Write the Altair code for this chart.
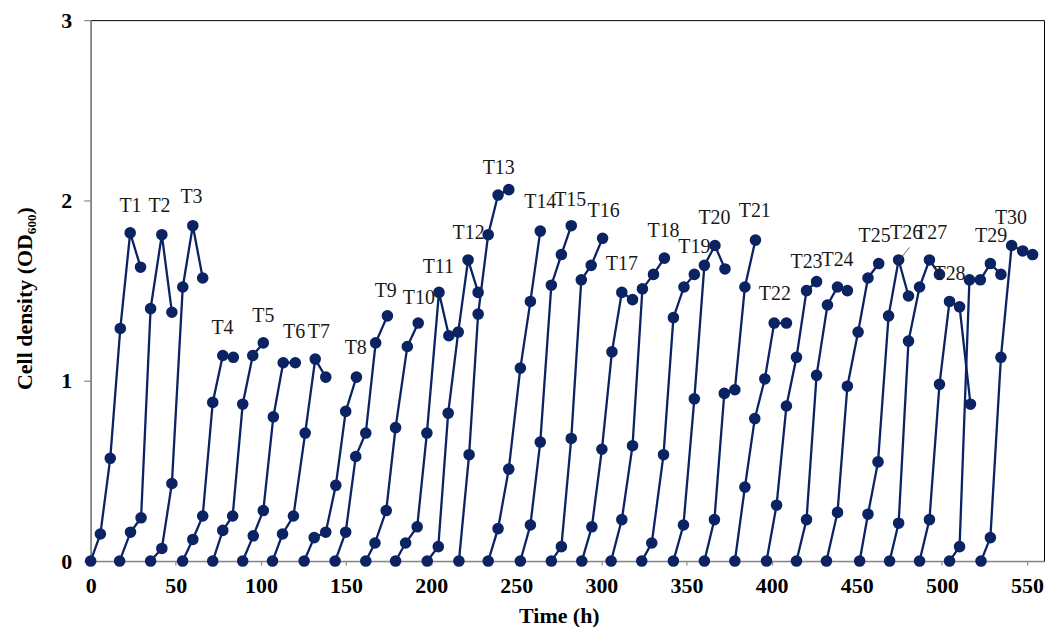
import altair as alt
import pandas as pd

series_names = ["T1", "T2", "T3", "T4", "T5", "T6", "T7", "T8", "T9", "T10",
                "T11", "T12", "T13", "T14", "T15", "T16", "T17", "T18", "T19", "T20",
                "T21", "T22", "T23", "T24", "T25", "T26", "T27", "T28", "T29", "T30"]

times = [
    [0, 5.7, 11.5, 17.4, 23.2, 29.3],
    [17, 23.4, 29.6, 35.2, 41.8, 47.7],
    [35.2, 41.8, 47.7, 54.1, 60, 65.8],
    [54, 60, 65.8, 71.7, 77.6, 83.8],
    [71.7, 77.6, 83.4, 89.3, 95.2, 101.4],
    [89.3, 95.5, 101.4, 107.3, 113.1, 120.2],
    [106.8, 112.7, 119.1, 126, 131.9, 138.1],
    [125.4, 131.3, 138.1, 144, 149.8, 156.1],
    [143.6, 149.8, 155.7, 161.6, 167.4, 174.3],
    [161.6, 167, 173.6, 179.1, 186, 192.4],
    [179.1, 185, 191.8, 197.5, 204.6, 210.4],
    [197.7, 204.2, 210, 215.9, 221.7, 227.6],
    [216.3, 222.3, 227.6, 233.5, 239.3, 245.6],
    [233.5, 239.3, 245.6, 252.4, 258.3, 264.1],
    [252.4, 258.3, 264.1, 270.6, 276.5, 282.3],
    [270.6, 276.5, 282.3, 288.2, 294, 300.7],
    [288.5, 294.4, 300.3, 306.2, 312, 318.3],
    [305.7, 312, 318.3, 324.1, 330.6, 337],
    [323.7, 329.6, 336.5, 342.3, 348.5, 354.6],
    [342.3, 348.2, 354.6, 360.5, 366.7, 372.6],
    [360.5, 366.4, 372.2, 378.4, 384.3, 390.5],
    [378.4, 384.3, 390.1, 396, 401.5, 408.7],
    [397, 402.9, 408.7, 414.6, 420.5, 426.4],
    [414.6, 420.5, 426.4, 432.8, 438.7, 444.5],
    [432.2, 438.7, 444.5, 450.8, 456.6, 462.9],
    [451.7, 456.6, 462.5, 468.7, 474.6, 480.4],
    [469.3, 474.6, 480.4, 486.9, 492.7, 498.6],
    [486.9, 492.7, 498.6, 504.5, 510.4, 516.8],
    [504.5, 510.4, 516.2, 522.6, 528.5, 534.7],
    [523, 528.5, 534.7, 541, 547.5, 553.3],
]

od_values = [
    [0, 0.15, 0.57, 1.29, 1.82, 1.63],
    [0, 0.16, 0.24, 1.40, 1.81, 1.38],
    [0, 0.07, 0.43, 1.52, 1.86, 1.57],
    [0, 0.12, 0.25, 0.88, 1.14, 1.13],
    [0, 0.17, 0.25, 0.87, 1.14, 1.21],
    [0, 0.14, 0.28, 0.80, 1.10, 1.10],
    [0, 0.15, 0.25, 0.71, 1.12, 1.02],
    [0, 0.13, 0.16, 0.42, 0.83, 1.02],
    [0, 0.16, 0.58, 0.71, 1.21, 1.36],
    [0, 0.10, 0.28, 0.74, 1.19, 1.32],
    [0, 0.10, 0.19, 0.71, 1.49, 1.25],
    [0, 0.08, 0.82, 1.27, 1.67, 1.49],
    [0, 0.59, 1.37, 1.81, 2.03, 2.06],
    [0, 0.18, 0.51, 1.07, 1.44, 1.83],
    [0, 0.20, 0.66, 1.53, 1.70, 1.86],
    [0, 0.08, 0.68, 1.56, 1.64, 1.79],
    [0, 0.19, 0.62, 1.16, 1.49, 1.45],
    [0, 0.23, 0.64, 1.51, 1.59, 1.68],
    [0, 0.10, 0.59, 1.35, 1.52, 1.59],
    [0, 0.20, 0.90, 1.64, 1.75, 1.62],
    [0, 0.23, 0.93, 0.95, 1.52, 1.78],
    [0, 0.41, 0.79, 1.01, 1.32, 1.32],
    [0, 0.31, 0.86, 1.13, 1.50, 1.55],
    [0, 0.23, 1.03, 1.42, 1.52, 1.50],
    [0, 0.27, 0.97, 1.27, 1.57, 1.65],
    [0, 0.26, 0.55, 1.36, 1.67, 1.47],
    [0, 0.21, 1.22, 1.52, 1.67, 1.59],
    [0, 0.23, 0.98, 1.44, 1.41, 0.87],
    [0, 0.08, 1.56, 1.56, 1.65, 1.59],
    [0, 0.13, 1.13, 1.75, 1.72, 1.70],
]

label_x = [23.4, 40.4, 59.2, 77.4, 101.4, 119.5, 134.0, 155.7, 173.3, 192.8,
           204.2, 222.0, 239.7, 264.1, 281.7, 301.3, 312.0, 336.5, 354.6, 366.4,
           390.1, 401.9, 420.5, 438.7, 460.5, 479.0, 493.7, 504.5, 528.9, 540.6]
label_y = [1.97, 1.97, 2.02, 1.29, 1.36, 1.27, 1.27, 1.18, 1.50, 1.46,
           1.63, 1.82, 2.18, 1.99, 2.00, 1.94, 1.65, 1.83, 1.74, 1.90,
           1.94, 1.48, 1.66, 1.67, 1.80, 1.82, 1.82, 1.59, 1.80, 1.90]

# leader line for T26 label
leader_t = [474.2, 481.0]
leader_od = [1.66, 1.74]

x_ticks = [0, 50, 100, 150, 200, 250, 300, 350, 400, 450, 500, 550]
y_ticks = [0, 1, 2, 3]

rows = []
for name, ts, vs in zip(series_names, times, od_values):
    for i, (t, v) in enumerate(zip(ts, vs)):
        rows.append({"series": name, "idx": i, "t": t, "od": v})
df = pd.DataFrame(rows)

lab_df = pd.DataFrame({"name": series_names, "t": label_x, "od": label_y})
leader_df = pd.DataFrame({"t": [leader_t[0]], "od": [leader_od[0]],
                          "t2": [leader_t[1]], "od2": [leader_od[1]]})

FONT = "Liberation Serif"
NAVY = "#0b2263"

xs = alt.Scale(domain=[0, 560], nice=False, zero=False)
ys = alt.Scale(domain=[0, 3], nice=False)

x_axis = alt.Axis(values=x_ticks, title="Time (h)", grid=False, format="d",
                  labelFlush=False, titleX=470, titleAlign="center")
y_axis = alt.Axis(values=y_ticks, title="Cell density (OD\u2086\u2080\u2080)", grid=False,
                  format="d", labelFlush=False, titleY=279, titleAlign="center")

X = alt.X("t:Q", scale=xs, axis=x_axis)
Y = alt.Y("od:Q", scale=ys, axis=y_axis)

lines = alt.Chart(df).mark_line(color=NAVY, strokeWidth=2.3).encode(
    x=X, y=Y, detail="series:N", order="idx:Q"
)
points = alt.Chart(df).mark_circle(color=NAVY, size=135, opacity=1).encode(x=X, y=Y)
leader = alt.Chart(leader_df).mark_rule(color="#444", strokeWidth=0.8).encode(
    x=X, y=Y, x2="t2:Q", y2="od2:Q"
)
texts = alt.Chart(lab_df).mark_text(
    font=FONT, fontSize=20, color="#1a1a1a", align="center", baseline="middle"
).encode(x=X, y=Y, text="name:N")

chart = alt.layer(lines, points, leader, texts).properties(
    width=957, height=543,
    autosize=alt.AutoSizeParams(type="none"),
    padding={"left": 83, "top": 11, "right": 2, "bottom": 65},
).configure_view(
    stroke="#000000", strokeWidth=1
).configure_axis(
    labelFont=FONT, labelFontSize=22, labelFontWeight="bold", labelColor="#000",
    titleFont=FONT, titleFontSize=22, titleFontWeight="bold", titleColor="#000",
    domainColor="#888888", domainWidth=1.5, tickColor="#888888", tickWidth=1.2,
).configure_axisX(
    tickSize=4, labelPadding=11, titlePadding=9,
).configure_axisY(
    tickSize=7, labelPadding=12, titlePadding=24,
)

chart.save("out.html", embed_options={"renderer": "svg", "actions": False})
